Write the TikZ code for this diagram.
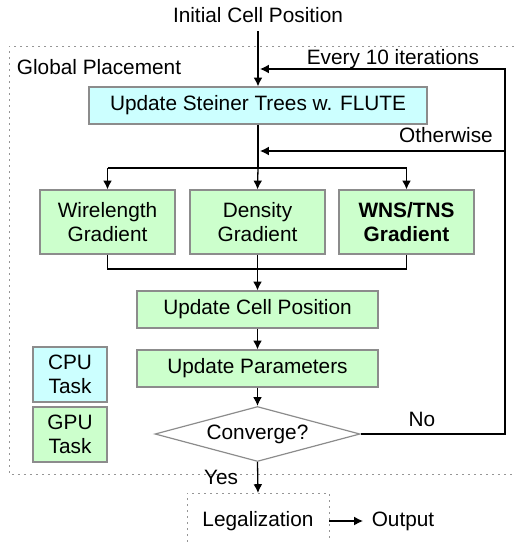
\documentclass[tikz,border=0pt]{standalone}
\usepackage{fontspec}
\setmainfont{Liberation Sans}
\usetikzlibrary{arrows.meta,shapes.geometric}
\definecolor{cpuc}{RGB}{204,255,255}
\definecolor{gpuc}{RGB}{204,255,204}
\definecolor{bordc}{RGB}{140,140,140}
\definecolor{dotc}{RGB}{150,150,150}
\begin{document}
\begin{tikzpicture}[x=0.5pt,y=-0.5pt,
  every node/.style={font=\fontsize{10.4}{12}\selectfont, inner sep=0pt},
  box/.style={draw=bordc, line width=0.6pt, align=center},
  cpubox/.style={box, fill=cpuc},
  gpubox/.style={box, fill=gpuc},
  conn/.style={line width=0.65pt, black},
  arr/.style={conn, -{Latex[length=4.4pt,width=4.4pt]}},
  frame/.style={dotc, line width=0.5pt, dash pattern=on 1pt off 2pt}]
\useasboundingbox (0,0) rectangle (514,542);

% outer dotted frame
\draw[frame] (514,46) -- (9,46) -- (9,474) -- (514,474);
\node[anchor=center] (gp) at (99,67) {Global Placement};

\node (init) at (258,15) {Initial Cell Position};
\node[cpubox, minimum width=169pt, minimum height=18.5pt] (st) at (258,105.5) {Update Steiner Trees w. FLUTE};

\node[gpubox, minimum width=67.5pt, minimum height=32pt] (wl) at (107.5,222) {Wirelength\\Gradient};
\node[gpubox, minimum width=67.5pt, minimum height=32pt] (de) at (257.5,222) {Density\\Gradient};
\node[gpubox, minimum width=67.5pt, minimum height=32pt, font=\fontsize{10.4}{12}\selectfont\bfseries] (wn) at (406.5,222) {WNS/TNS\\Gradient};

\node[gpubox, minimum width=120.5pt, minimum height=18.5pt] (ucp) at (257.5,309.5) {Update Cell Position};
\node[gpubox, minimum width=120.5pt, minimum height=18.5pt] (up) at (257.5,368.5) {Update Parameters};

\node[cpubox, minimum width=37pt, minimum height=27.5pt] (cpu) at (70,374.5) {CPU\\Task};
\node[gpubox, minimum width=37pt, minimum height=27.5pt] (gpu) at (70,434.5) {GPU\\Task};

\node[draw=bordc, line width=0.6pt, diamond, aspect=3.73, minimum width=102.5pt, minimum height=27.5pt] (cv) at (257.5,434) {Converge?};

% legalization frame
\coordinate (lgtl) at (187,493);
\coordinate (lgtr) at (329,493);
\draw[frame] (187,542) -- (lgtl) -- (lgtr) -- (329,542);
\node (lg) at (258,521) {Legalization};
\coordinate (lgr) at (329,521);
\node (out) at (403,521) {Output};
\coordinate (outtip) at (363,521);

% connectors
\coordinate (inittop) at (258,31);
\draw[arr] (inittop) -- (st.north);
\coordinate (br) at (258,168);
\coordinate (brl) at (107.5,168);
\coordinate (brr) at (406.5,168);
\draw[conn] (st.south) -- (br);
\draw[conn] (brl) -- (brr);
\draw[arr] (brl) -- (wl.north);
\draw[arr] (br) -- (de.north);
\draw[arr] (brr) -- (wn.north);

\coordinate (jl) at (107.5,269);
\coordinate (jr) at (406.5,269);
\draw[conn] (wl.south) -- (jl) -- (jr) -- (wn.south);
\draw[arr] (de.south) -- (ucp.north);
\draw[arr] (ucp.south) -- (up.north);
\draw[arr] (up.south) -- (cv.north);

% feedback
\coordinate (fbr) at (505,434);
\coordinate (fbt) at (505,69);
\coordinate (fbtip) at (260,69);
\coordinate (fbo) at (505,151);
\coordinate (fbotip) at (260,151);
\draw[arr] (cv.east) -- (fbr) -- (fbt) -- (fbtip);
\draw[arr] (fbo) -- (fbotip);
\node (ev) at (393,59) {Every 10 iterations};
\node (ow) at (446,135) {Otherwise};
\node (no) at (422,419) {No};

\draw[arr] (cv.south) -- (258,493);
\node (yes) at (221,477) {Yes};
\draw[arr] (lgr) -- (outtip);
\end{tikzpicture}
\end{document}
